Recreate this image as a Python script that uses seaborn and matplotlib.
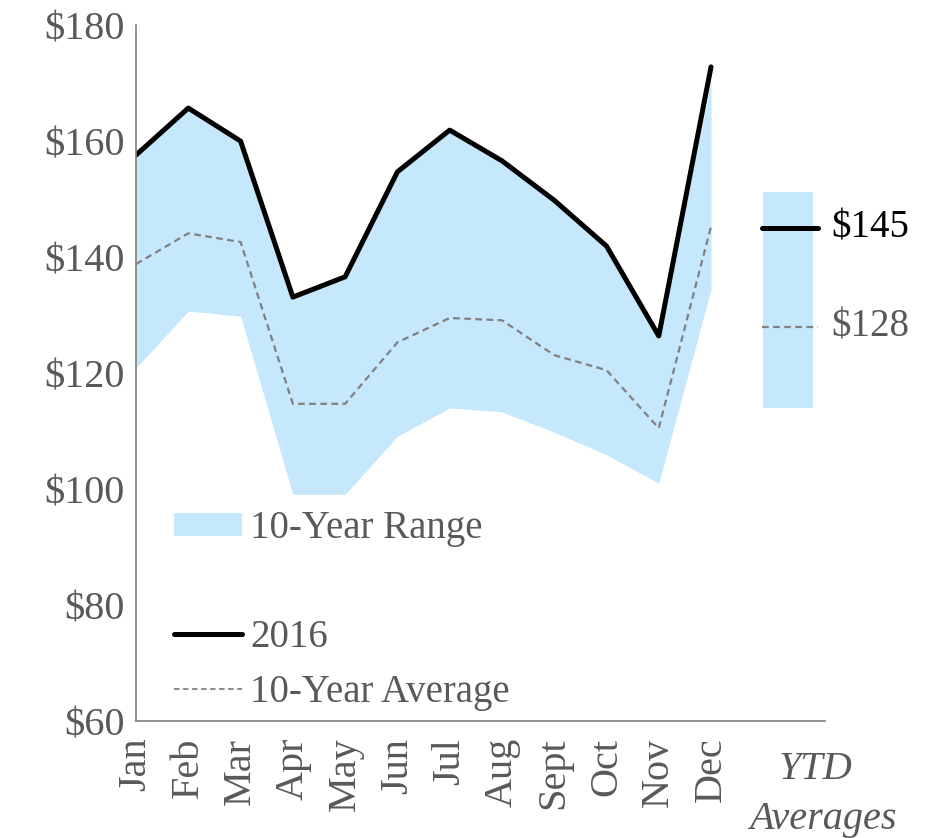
import numpy as np
import pandas as pd
import matplotlib.pyplot as plt
from matplotlib.patches import Patch
from matplotlib.lines import Line2D
import seaborn as sns

# chart values
months = ['Jan', 'Feb', 'Mar', 'Apr', 'May', 'Jun', 'Jul', 'Aug', 'Sept', 'Oct', 'Nov', 'Dec']
y2016 = [157.6, 165.7, 160.0, 133.1, 136.6, 154.7, 161.9, 156.6, 149.8, 141.9, 126.4, 172.8]
avg10 = [138.8, 144.1, 142.6, 114.7, 114.7, 125.3, 129.5, 129.1, 123.1, 120.5, 110.5, 145.3]
range_hi = [157.6, 165.7, 160.0, 133.1, 136.6, 154.7, 161.9, 156.6, 149.8, 141.9, 126.4, 170.3]
range_lo = [120.9, 130.7, 129.8, 99.1, 99.1, 109.1, 114.0, 113.3, 109.8, 105.9, 101.0, 134.5]
ytd_2016 = 145
ytd_avg = 128
ytd_lo = 114.0
ytd_hi = 151.2

df = pd.DataFrame({'pos': np.arange(len(months)), 'y2016': y2016, 'avg': avg10,
                   'hi': range_hi, 'lo': range_lo})

sns.set_theme(style='white')
plt.rcParams['font.family'] = ['Liberation Serif', 'DejaVu Serif']

blue = '#C5E8FC'
grey_txt = '#595959'

fig = plt.figure(figsize=(9.28, 8.38), dpi=100)
ax = fig.add_axes([0.1466, 0.1396, 0.889 - 0.1466, 0.970 - 0.1396])

ax.fill_between(df['pos'], df['lo'], df['hi'], color=blue, lw=0)
sns.lineplot(data=df, x='pos', y='avg', ax=ax, color='#808080', lw=1.6,
             linestyle=(0, (3, 2)))
sns.lineplot(data=df, x='pos', y='y2016', ax=ax, color='black', lw=3.6)

# YTD block
ax.fill_between([12.0, 12.95], ytd_lo, ytd_hi, color=blue, lw=0)
ax.plot([11.97, 13.05], [ytd_2016, ytd_2016], color='black', lw=3.6,
        solid_capstyle='round')
ax.plot([11.97, 13.05], [ytd_avg, ytd_avg], color='#808080', lw=1.6,
        linestyle=(0, (3, 2)))
ax.text(13.3, ytd_2016, '$145', fontsize=28, color='black', va='center',
        ha='left', clip_on=False)
ax.text(13.3, ytd_avg, '$128', fontsize=28, color=grey_txt, va='center',
        ha='left', clip_on=False)

ax.set_xlim(0, 13.18)
ax.set_ylim(60, 180)
ax.set_xticks(df['pos'])
ax.set_xticklabels(months, rotation=90, fontsize=29, color=grey_txt)
yt = np.arange(60, 181, 20)
ax.set_yticks(yt)
ax.set_yticklabels(['$' + str(v) for v in yt], fontsize=29, color=grey_txt)
ax.tick_params(axis='x', length=0, pad=12)
ax.tick_params(axis='y', length=0, pad=8)
ax.set_xlabel('')
ax.set_ylabel('')
for s in ['top', 'right']:
    ax.spines[s].set_visible(False)
for s in ['left', 'bottom']:
    ax.spines[s].set_color('#808080')
    ax.spines[s].set_linewidth(1.2)

ax.text(13.0, 51.6, 'YTD', fontsize=29, style='italic', color=grey_txt,
        ha='center', va='center', clip_on=False)
ax.text(13.15, 43.0, 'Averages', fontsize=29, style='italic', color=grey_txt,
        ha='center', va='center', clip_on=False)

handles = [Patch(facecolor=blue, edgecolor='none'),
           Line2D([], [], color='none'),
           Line2D([], [], color='black', lw=3.6),
           Line2D([], [], color='#808080', lw=1.3, linestyle=(0, (3, 2)))]
labels = ['10-Year Range', '', '2016', '10-Year Average']
leg = ax.legend(handles, labels, loc='upper left', bbox_to_anchor=(0.055, 0.303),
                frameon=False, fontsize=28, handlelength=1.75, handleheight=0.55,
                handletextpad=0.2, labelspacing=0.45, borderaxespad=0,
                borderpad=0)
for t in leg.get_texts():
    t.set_color(grey_txt)

fig.savefig('out.png', dpi=100)
